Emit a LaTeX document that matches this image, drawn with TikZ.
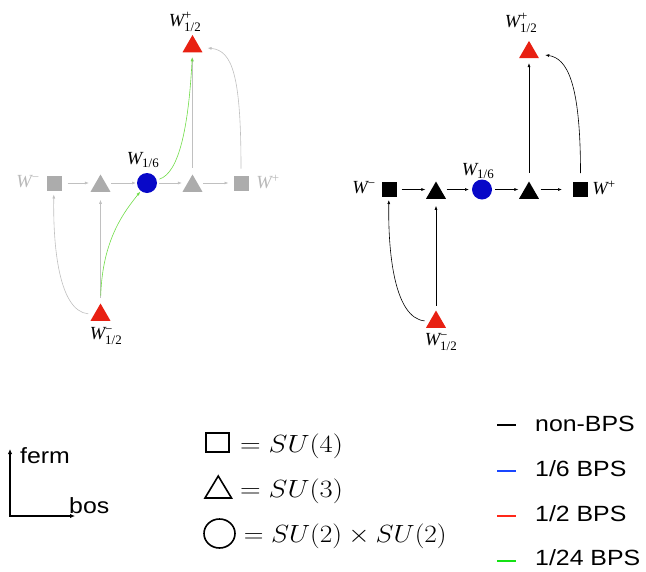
\documentclass[tikz,border=0pt]{standalone}
\usepackage{fontspec}
\usepackage{amsmath}
\setsansfont{Liberation Sans}
\newfontfamily\tms{Liberation Serif}
\usetikzlibrary{shapes.geometric,arrows.meta}
\definecolor{gnode}{RGB}{172,172,172}
\definecolor{gedge}{RGB}{192,192,192}
\definecolor{glab}{RGB}{185,185,185}
\definecolor{tred}{RGB}{232,32,18}
\definecolor{cblue}{RGB}{8,8,200}
\definecolor{egreen}{RGB}{110,220,70}
\definecolor{lblue}{RGB}{25,70,255}
\definecolor{lred}{RGB}{255,40,25}
\definecolor{lgreen}{RGB}{20,225,20}
\newcommand\Wlab[2]{{\tms\itshape W}$^{\text{\tms #1}}_{\text{\tms #2}}$}
\newcommand\Wsub[1]{{\tms\itshape W}$_{\text{\tms #1}}$}
\newcommand\Wsup[1]{{\tms\itshape W}$^{\text{\tms #1}}$}
\begin{document}
\begin{tikzpicture}[x=1pt,y=-1pt,
  sqn/.style={rectangle,minimum size=15pt,inner sep=0pt,outer sep=0pt},
  trin/.style={regular polygon,regular polygon sides=3,minimum size=23pt,inner sep=0pt,outer sep=0pt},
  cirn/.style={circle,minimum size=20pt,inner sep=0pt,outer sep=0pt,fill=cblue},
  lab/.style={inner sep=0pt,font=\fontsize{18.5}{20}\selectfont},
  tip/.style={-{Latex[length=4pt,width=3pt]}},
  ge/.style={draw=gedge,line width=0.6pt,tip},
  be/.style={draw=black,line width=0.6pt,tip},
  gre/.style={draw=egreen,line width=0.6pt,tip},
  sanslab/.style={inner sep=0pt,font=\fontsize{22}{24}\selectfont\sffamily},
  mathlab/.style={inner sep=0pt,font=\fontsize{23}{26}\selectfont},
  legdash/.style={line width=2pt}
]
\path[use as bounding box] (0,0) rectangle (646,571);

% ---------------- left diagram ----------------
\node[sqn,fill=gnode] (LSm) at (54,183) {};
\node[trin,fill=gnode] (LT1) at (100.5,186) {};
\node[cirn] (LC) at (147,183) {};
\node[trin,fill=gnode] (LT2) at (192.5,186) {};
\node[sqn,fill=gnode] (LSp) at (241,183) {};
\node[trin,fill=tred] (LTt) at (192.5,46.5) {};
\node[trin,fill=tred] (LTb) at (100.5,315) {};

\node[lab] (LlTop) at (185,22) {\Wlab{+}{1/2}};
\node[lab] (Ll16) at (143,160) {\Wsub{1/6}};
\node[lab,text=glab] (LlWm) at (28,182) {\Wsup{−}};
\node[lab,text=glab] (LlWp) at (268,182) {\Wsup{+}};
\node[lab] (LlBot) at (106,336) {\Wlab{−}{1/2}};

\draw[ge,shorten <=6pt,shorten >=5pt] (LSm.east) -- (LT1.west |- LSm.east);
\draw[ge,shorten <=4pt,shorten >=1pt] (LT1.east |- LC.west) -- (LC.west);
\draw[ge,shorten <=2pt,shorten >=4pt] (LC.east) -- (LT2.west |- LC.east);
\draw[ge,shorten <=4pt,shorten >=5pt] (LT2.east |- LSp.west) -- (LSp.west);
\draw[ge,shorten <=7pt,shorten >=5pt] (LT2.north) -- (LTt.south);
\draw[ge,shorten <=6pt,shorten >=8pt] (LTb.north) -- (LT1.south);
\draw[ge,shorten <=7pt,shorten >=8pt] (LSp.north) .. controls +(0,-100) and +(40,4) .. (LTt);
\draw[ge,shorten <=6pt,shorten >=4pt] (LTb) .. controls +(-42,-4) and +(-1,62) .. (LSm);
\draw[gre,shorten <=8pt,shorten >=1pt] (LTb.north) .. controls +(2,-65) and +(-22,28) .. (LC);
\draw[gre,shorten <=3pt,shorten >=5pt] (LC) .. controls +(32,-10) and +(-4,75) .. (LTt.south);

% ---------------- right diagram ----------------
\node[sqn,fill=black] (RSm) at (389,189.5) {};
\node[trin,fill=black] (RT1) at (436,193) {};
\node[cirn] (RC) at (482,189.5) {};
\node[trin,fill=black] (RT2) at (529,193) {};
\node[sqn,fill=black] (RSp) at (580.5,189.5) {};
\node[trin,fill=tred] (RTt) at (529,52.4) {};
\node[trin,fill=tred] (RTb) at (436,322) {};

\node[lab] (RlTop) at (521,23) {\Wlab{+}{1/2}};
\node[lab] (Rl16) at (478,171) {\Wsub{1/6}};
\node[lab] (RlWm) at (364,188) {\Wsup{−}};
\node[lab] (RlWp) at (604,188) {\Wsup{+}};
\node[lab] (RlBot) at (441,342) {\Wlab{−}{1/2}};

\draw[be,shorten <=5pt,shorten >=4pt] (RSm.east) -- (RT1.west |- RSm.east);
\draw[be,shorten <=4pt,shorten >=3pt] (RT1.east |- RC.west) -- (RC.west);
\draw[be,shorten <=3pt,shorten >=4pt] (RC.east) -- (RT2.west |- RC.east);
\draw[be,shorten <=5pt,shorten >=11pt] (RT2.east |- RSp.west) -- (RSp.west);
\draw[be,shorten <=9pt,shorten >=5pt] (RT2.north) -- (RTt.south);
\draw[be,shorten <=5pt,shorten >=7pt] (RTb.north) -- (RT1.south);
\draw[be,shorten <=9pt,shorten >=9pt] (RSp.north) .. controls +(0,-100) and +(38,6) .. (RTt);
\draw[be,shorten <=5pt,shorten >=3pt] (RTb) .. controls +(-42,-4) and +(-1,62) .. (RSm);

% ---------------- axes legend ----------------
\coordinate (axO) at (10,516);
\coordinate (axU) at (10,449);
\coordinate (axR) at (75,516);
\draw[line width=1.5pt,{Latex[length=5pt,width=4.5pt]}-{Latex[length=5pt,width=4.5pt]}] (axU) -- (axO) -- (axR);
\node[sanslab,anchor=base west] (ferm) at (20,463) {\scalebox{1.13}[1]{ferm}};
\node[sanslab,anchor=base west] (bos) at (69,513) {\scalebox{1.13}[1]{bos}};

% ---------------- shape legend ----------------
\node[draw,rectangle,line width=1.8pt,minimum width=23pt,minimum height=19pt,inner sep=0pt] (lsq) at (217.5,442.5) {};
\draw[line width=1.6pt,line join=miter] (205,498) -- (231.5,498) -- (218.25,476) -- cycle;
\node[draw,ellipse,line width=1.6pt,minimum width=31pt,minimum height=29pt,inner sep=0pt] (lci) at (219.5,533.5) {};
\node[mathlab,anchor=base west] (eq4) at (232,452) {\scalebox{1.15}[1]{${}=SU(4)$}};
\node[mathlab,anchor=base west] (eq3) at (232,497) {\scalebox{1.15}[1]{${}=SU(3)$}};
\node[mathlab,anchor=base west] (eq2) at (236,542) {\scalebox{1.1}[1]{${}=SU(2)\times SU(2)$}};

% ---------------- BPS legend ----------------
\coordinate (d1a) at (497,425); \coordinate (d1b) at (516,425);
\coordinate (d2a) at (497,471); \coordinate (d2b) at (516,471);
\coordinate (d3a) at (497,516); \coordinate (d3b) at (516,516);
\coordinate (d4a) at (497,561); \coordinate (d4b) at (516,561);
\draw[legdash,black] (d1a) -- (d1b);
\draw[legdash,lblue] (d2a) -- (d2b);
\draw[legdash,lred] (d3a) -- (d3b);
\draw[legdash,lgreen] (d4a) -- (d4b);
\node[sanslab,anchor=base west] (t1) at (535,431) {\scalebox{1.13}[1]{non-BPS}};
\node[sanslab,anchor=base west] (t2) at (535,476.5) {\scalebox{1.13}[1]{1/6 BPS}};
\node[sanslab,anchor=base west] (t3) at (535,521.5) {\scalebox{1.13}[1]{1/2 BPS}};
\node[sanslab,anchor=base west] (t4) at (535,565.5) {\scalebox{1.13}[1]{1/24 BPS}};
\end{tikzpicture}
\end{document}
